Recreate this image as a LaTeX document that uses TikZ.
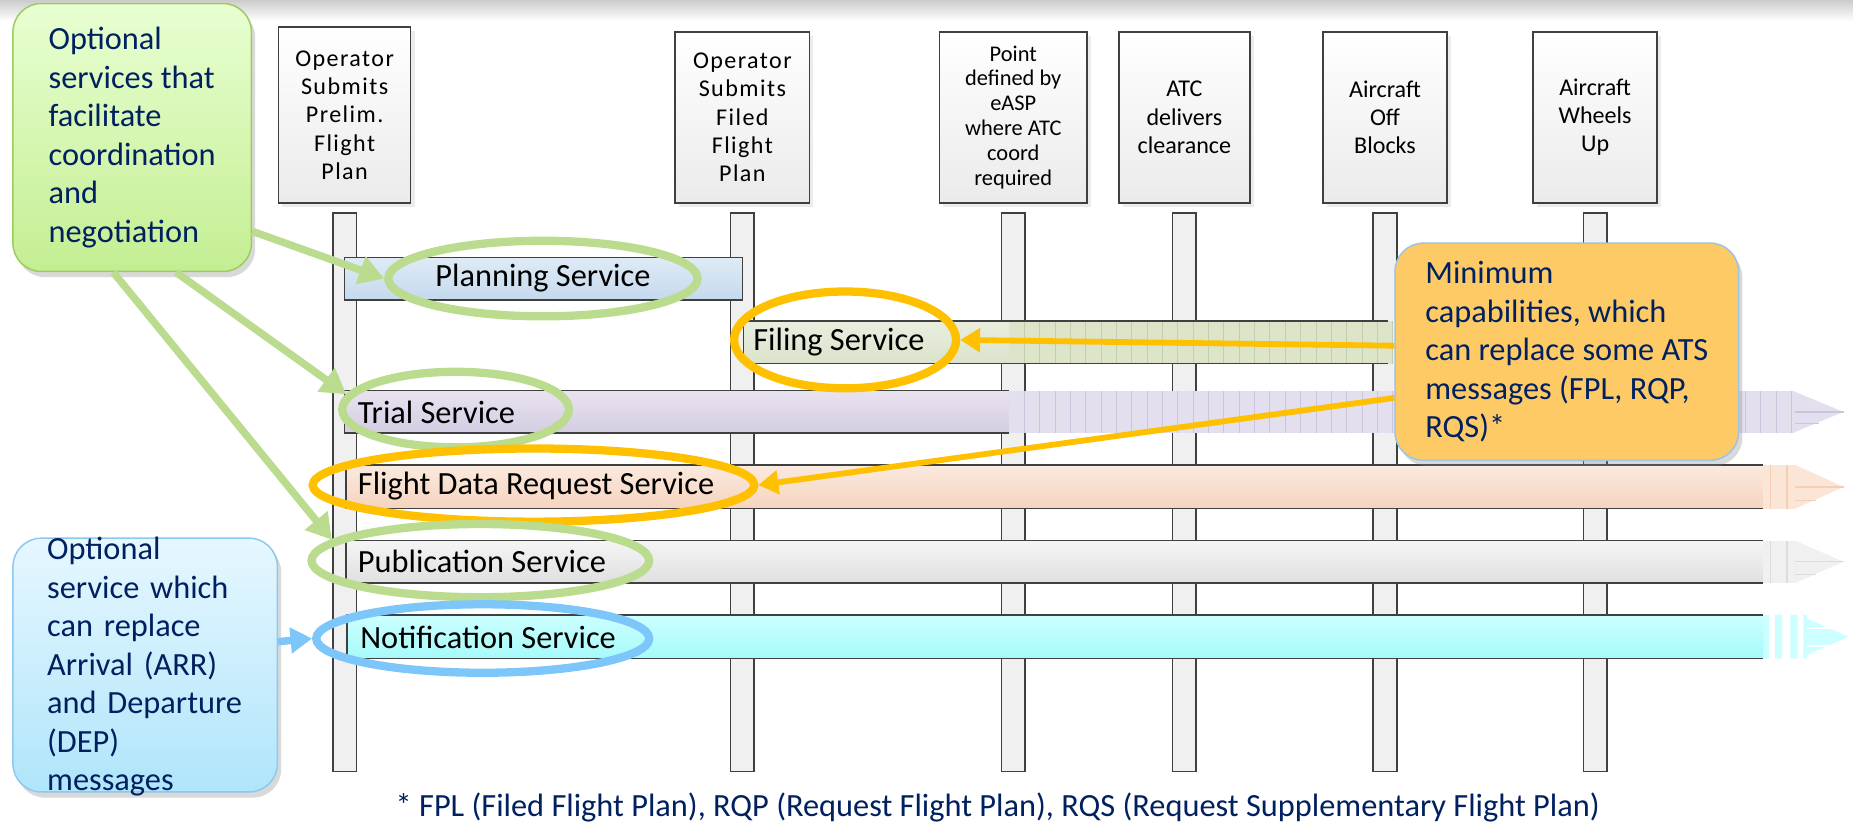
\documentclass[tikz,border=0pt]{standalone}
\usepackage{fontspec}
\setmainfont{Carlito}
\usetikzlibrary{calc,positioning,arrows.meta,shapes.geometric,shadows}
\definecolor{navy}{HTML}{002060}
\definecolor{edgegray}{HTML}{404040}
\definecolor{ringgreen}{HTML}{BBDC8E}
\definecolor{ringorange}{HTML}{FFC000}
\definecolor{ringblue}{HTML}{7CC6FA}
\definecolor{planTop}{HTML}{DFEBF6}
\definecolor{planBot}{HTML}{C5D9ED}
\definecolor{filTop}{HTML}{E9EEDF}
\definecolor{filBot}{HTML}{DAE3CB}
\definecolor{filHatch}{HTML}{DCE5C9}
\definecolor{filStripe}{HTML}{C3CEAA}
\definecolor{triTop}{HTML}{E8E3F0}
\definecolor{triBot}{HTML}{D5CCE2}
\definecolor{triHatch}{HTML}{E4DFEE}
\definecolor{triStripe}{HTML}{CCC3DD}
\definecolor{fdrTop}{HTML}{FBEADF}
\definecolor{fdrBot}{HTML}{F5D4BD}
\definecolor{fdrTip}{HTML}{FBE5D6}
\definecolor{fdrStripe}{HTML}{F4CFB4}
\definecolor{pubTop}{HTML}{F5F5F5}
\definecolor{pubBot}{HTML}{E0E0E0}
\definecolor{pubTip}{HTML}{F0F0F0}
\definecolor{pubStripe}{HTML}{DCDCDC}
\definecolor{notTop}{HTML}{CCFFFF}
\definecolor{notBot}{HTML}{A6FAFA}
\definecolor{optTop}{HTML}{E8FFD2}
\definecolor{optBot}{HTML}{C4EE92}
\definecolor{optEdge}{HTML}{9CCB5E}
\definecolor{infTop}{HTML}{E6F7FF}
\definecolor{infBot}{HTML}{B0E5FB}
\definecolor{infEdge}{HTML}{8DC8EE}
\definecolor{minFill}{HTML}{FECA65}
\definecolor{minEdge}{HTML}{9DC3E6}
\tikzset{
	eventbox/.style={draw=edgegray, line width=0.9pt, top color=white, bottom color=black!8,
		align=center, inner sep=0pt, minimum height=3.625cm,
		font=\fontsize{14.5}{17}\selectfont,
		drop shadow={opacity=0.15, shadow xshift=0.08cm, shadow yshift=-0.08cm}},
	spaced/.style={font=\fontsize{14.5}{17}\selectfont\addfontfeature{LetterSpace=6}},
	lifeline/.style={draw=edgegray, line width=0.9pt, fill=black!6},
	barline/.style={draw=edgegray, line width=0.9pt},
	svclabel/.style={font=\fontsize{19.5}{23}\selectfont, inner sep=0pt},
	svcring/.style={ellipse, draw, line width=5pt, inner sep=0pt},
	notetext/.style={text=navy, align=left, inner sep=0pt, font=\fontsize{19.5}{23.2}\selectfont},
	notebox/.style={notetext, rounded corners=0.6cm, line width=0.9pt,
		drop shadow={opacity=0.3, shadow xshift=0.08cm, shadow yshift=-0.12cm}},
	greenarr/.style={-{Triangle[length=15pt,width=17pt]}, ringgreen, line width=4.5pt},
	bluearr/.style={-{Triangle[length=13pt,width=15pt]}, ringblue, line width=4.5pt},
	orangearr/.style={-{Triangle[length=12pt,width=14pt]}, ringorange, line width=3.5pt},
}

\begin{document}
\begin{tikzpicture}[x=0.025cm,y=-0.025cm]
	\useasboundingbox (0,0) rectangle (1570,696);
	\shade[top color=black!20, bottom color=white] (0,0) rectangle (1570,18);

	% events
	\node[eventbox, spaced, minimum width=2.8cm, minimum height=3.725cm] (hd1) at (292,97.5) {Operator\\Submits\\Prelim.\\Flight\\Plan};
	\node[eventbox, spaced, minimum width=2.85cm] (hd2) at (629,99.5) {Operator\\Submits\\Filed\\Flight\\Plan};
	\node[eventbox, minimum width=3.125cm, font=\fontsize{13.5}{15}\selectfont] (hd3) at (858.5,99.5) {Point\\defined by\\eASP\\where ATC\\coord\\required};
	\node[eventbox, minimum width=2.775cm] (hd4) at (1003.5,99.5) {ATC\\delivers\\clearance};
	\node[eventbox, minimum width=2.625cm] (hd5) at (1173.5,99.5) {Aircraft\\Off\\Blocks};
	\node[eventbox, minimum width=2.625cm] (hd6) at (1351.5,99.5) {Aircraft\\Wheels\\Up};
	\foreach \n in {1,...,6}
		\draw[lifeline] ($(hd\n.south)+(-10,8)$) rectangle ($(hd\n.south)+(10,481)$);

	% services
	\shadedraw[barline, top color=planTop, bottom color=planBot] (292,218) rectangle (629,254);

	\fill[filHatch] (855,272) rectangle (1180,308);
	\foreach \x in {868,881,...,1180}
		\draw[filStripe, line width=0.6pt] (\x,272) -- (\x,308);
	\shade[top color=filTop, bottom color=filBot] (630,272) rectangle (855,308);
	\draw[barline] (1176,272) -- (630,272) -- (630,308) -- (1176,308);

	\fill[triHatch] (855,331) rectangle (1521,367);
	\fill[triHatch] (1521,332) -- (1562,349) -- (1521,366) -- cycle;
	\foreach \x in {868,881,...,1521}
		\draw[triStripe, line width=0.6pt] (\x,331) -- (\x,367);
	\draw[triStripe, line width=0.8pt] (1521,349) -- (1562,349) (1521,359) -- (1541,359);
	\shade[top color=triTop, bottom color=triBot] (292,331) rectangle (855,367);
	\draw[barline] (855,331) -- (292,331) -- (292,367) -- (855,367);

	\foreach \t/\b/\c in {394/431/fdr,458/494/pub}{
		\shade[top color=\c Top, bottom color=\c Bot] (293,\t) rectangle (1494,\b);
		\fill[color=\c Tip] (1494,\t) rectangle (1521,\b);
		\fill[color=\c Tip] (1521,\t) -- (1562,{(\t+\b)/2}) -- (1521,\b) -- cycle;
		\draw[color=\c Stripe, line width=0.8pt] (1500,\t) -- (1500,\b) (1514,\t) -- (1514,\b)
			(1521,{(\t+\b)/2}) -- (1562,{(\t+\b)/2}) (1521,\b-7) -- (1539,\b-7);
		\draw[barline] (1494,\t) -- (293,\t) -- (293,\b) -- (1494,\b);
	}

	\shade[top color=notTop, bottom color=notBot] (294,521) rectangle (1494,558);
	\fill[notTop] (1494,521) rectangle (1499,558) (1504,521) rectangle (1510,558)
		(1517,521) rectangle (1523,558) (1528,521) rectangle (1531,558);
	\fill[notTop] (1531,524) -- (1566,539.5) -- (1531,555) -- cycle;
	\draw[white, line width=1.2pt] (1531,532) -- (1552,532) (1531,547) -- (1552,547);
	\draw[barline] (1494,521) -- (294,521) -- (294,558) -- (1494,558);

	\node[svclabel] (plantext) at (460,236) {Planning Service};
	\node[svclabel, anchor=west] (filtext) at (638,290) {Filing Service};
	\node[svclabel, anchor=west] (tritext) at (303,349) {Trial Service};
	\node[svclabel, anchor=west] (fdrtext) at (303,412) {Flight Data Request Service};
	\node[svclabel, anchor=west] (pubtext) at (303,476) {Publication Service};
	\node[svclabel, anchor=west] (nottext) at (305,540) {Notification Service};

	\node[svcring, ringgreen, minimum width=6.55cm, minimum height=1.6cm] (planring) at (460,236) {};
	\node[svcring, ringorange, minimum width=4.7cm, minimum height=2.05cm] (filring) at (716,288) {};
	\node[svcring, ringgreen, minimum width=4.8cm, minimum height=1.6cm] (triring) at (386,347) {};
	\node[svcring, ringorange, minimum width=9.35cm, minimum height=1.55cm] (fdrring) at (452,411) {};
	\node[svcring, ringgreen, minimum width=7.15cm, minimum height=1.55cm] (pubring) at (407,475) {};
	\node[svcring, ringblue, minimum width=7.05cm, minimum height=1.45cm] (notring) at (409,541) {};

	% notes
	\node[notebox, draw=optEdge, top color=optTop, bottom color=optBot,
		minimum width=5.05cm, minimum height=5.675cm] (opt) at (112,116.5)
		{Optional\\services that\\facilitate\\coordination\\and\\negotiation};
	\node[notebox, draw=infEdge, top color=infTop, bottom color=infBot,
		minimum width=5.6cm, minimum height=5.375cm] (notice) at (123,563.5) {};
	\node[notetext, text width=4.25cm] (noticetext) at (125,565)
		{Optional\\service which\\can replace\\Arrival (ARR)\\and Departure\\(DEP)\\messages};
	\node[notebox, draw=minEdge, fill=minFill, minimum width=7.275cm, minimum height=4.6cm] (mincap) at (1327.5,298)
		{Minimum\\capabilities, which\\can replace some ATS\\messages (FPL, RQP,\\RQS)*};

	\draw[greenarr] (opt.-38) -- (planring.west);
	\draw[greenarr] (opt.-72) -- (triring.172);
	\draw[greenarr] (opt.-98) -- (pubring.172);
	\draw[bluearr] (notice.10) -- (notring.west);
	\draw[orangearr] (mincap.178) -- (filring.east);
	\draw[orangearr] (mincap.195) -- (fdrring.east);

	\node[font=\fontsize{19.5}{23}\selectfont, text=navy, anchor=west, inner sep=0pt] (fpl) at (335,684)
		{* FPL (Filed Flight Plan), RQP (Request Flight Plan), RQS (Request Supplementary Flight Plan)};
\end{tikzpicture}
\end{document}
